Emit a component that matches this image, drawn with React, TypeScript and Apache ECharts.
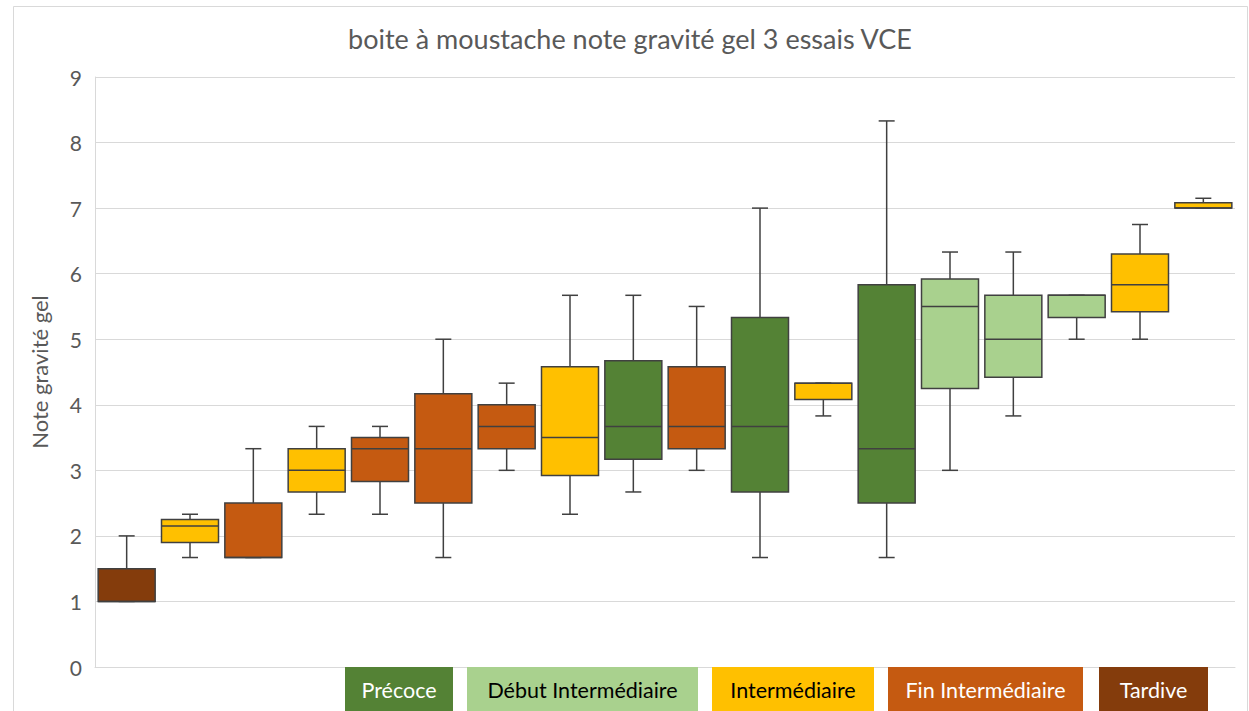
import React, { useEffect, useRef } from "react";
import * as echarts from "echarts";

const TITLE = "boite à moustache note gravité gel 3 essais VCE";
const Y_NAME = "Note gravité gel";
const CATEGORIES = ["V1", "V2", "V3", "V4", "V5", "V6", "V7", "V8", "V9", "V10", "V11", "V12", "V13", "V14", "V15", "V16", "V17", "V18"];
const GROUP_NAMES = ["Précoce", "Début Intermédiaire", "Intermédiaire", "Fin Intermédiaire", "Tardive"];
const GROUP_COLORS = ["#548235", "#A9D18E", "#FFC000", "#C55A11", "#843C0C"];
const GROUP_TEXT = ["#ffffff", "#000000", "#000000", "#ffffff", "#ffffff"];
// group index per box
const BOX_GROUP = [4, 2, 3, 2, 3, 3, 3, 2, 0, 3, 0, 2, 0, 1, 1, 1, 2, 2];
const MINS = [1, 1.67, 1.67, 2.33, 2.33, 1.67, 3, 2.33, 2.67, 3, 1.67, 3.83, 1.67, 3, 3.83, 5, 5, 7];
const Q1S = [1, 1.9, 1.67, 2.67, 2.83, 2.5, 3.33, 2.92, 3.17, 3.33, 2.67, 4.08, 2.5, 4.25, 4.42, 5.33, 5.42, 7];
const MEDIANS = [1, 2.15, 1.67, 3, 3.33, 3.33, 3.67, 3.5, 3.67, 3.67, 3.67, 4.33, 3.33, 5.5, 5, 5.67, 5.83, 7];
const Q3S = [1.5, 2.25, 2.5, 3.33, 3.5, 4.17, 4, 4.58, 4.67, 4.58, 5.33, 4.33, 5.83, 5.92, 5.67, 5.67, 6.3, 7.08];
const MAXS = [2, 2.33, 3.33, 3.67, 3.67, 5, 4.33, 5.67, 5.67, 5.5, 7, 4.33, 8.33, 6.33, 6.33, 5.67, 6.75, 7.15];
const Y_TICKS = [0, 1, 2, 3, 4, 5, 6, 7, 8, 9];

const LEGEND_BOXES = [
  [345, 108],
  [467, 231],
  [712, 162],
  [888, 195],
  [1099, 109],
];

const FONT = "Lato, 'Noto Sans', sans-serif";

export default function App() {
  const ref = useRef<HTMLDivElement>(null);
  useEffect(() => {
    document.body.style.margin = "0";
    const chart = echarts.init(ref.current!, null, { renderer: "svg" });
    const data = CATEGORIES.map((_, i) => [i, MINS[i], Q1S[i], MEDIANS[i], Q3S[i], MAXS[i]]);
    const stroke = "#404040";
    const graphics: any[] = [
      {
        type: "rect",
        shape: { x: 13.5, y: 6.5, width: 1234, height: 760 },
        style: { fill: "none", stroke: "#d9d9d9", lineWidth: 1 },
        silent: true,
        z: -10,
      },
      {
        type: "text",
        x: 630,
        y: 38,
        style: {
          text: TITLE,
          fill: "#595959",
          font: `27px ${FONT}`,
          textAlign: "center",
          textVerticalAlign: "middle",
        },
      },
    ];
    GROUP_NAMES.forEach((name, i) => {
      const [x, w] = LEGEND_BOXES[i];
      graphics.push({
        type: "rect",
        shape: { x, y: 667, width: w, height: 50 },
        style: { fill: GROUP_COLORS[i] },
        z: 10,
      });
      graphics.push({
        type: "text",
        x: x + w / 2,
        y: 690,
        z: 11,
        style: {
          text: name,
          fill: GROUP_TEXT[i],
          font: `21.5px ${FONT}`,
          textAlign: "center",
          textVerticalAlign: "middle",
        },
      });
    });
    chart.setOption({
      animation: false,
      backgroundColor: "#ffffff",
      grid: { left: 95, right: 14, top: 77, bottom: 44, containLabel: false },
      xAxis: {
        type: "category",
        data: CATEGORIES,
        axisLabel: { show: false },
        axisTick: { show: false },
        axisLine: { show: true, lineStyle: { color: "#d9d9d9", width: 1 } },
        splitLine: { show: false },
      },
      yAxis: {
        type: "value",
        min: Y_TICKS[0],
        max: Y_TICKS[Y_TICKS.length - 1],
        interval: 1,
        name: Y_NAME,
        nameLocation: "middle",
        nameGap: 45,
        nameTextStyle: { color: "#595959", fontSize: 22, fontFamily: FONT },
        axisLabel: { color: "#595959", fontSize: 21, fontFamily: FONT, margin: 13 },
        axisLine: { show: true, lineStyle: { color: "#d9d9d9", width: 1 } },
        axisTick: { show: false },
        splitLine: { lineStyle: { color: "#d9d9d9", width: 1 } },
      },
      graphic: graphics,
      series: [
        {
          type: "custom",
          data,
          encode: { x: 0, y: [1, 2, 3, 4, 5] },
          renderItem: (params: any, api: any) => {
            const idx = api.value(0);
            const bw = api.size([1, 0])[0] * 0.9;
            const hw = bw / 2;
            const cap = 8;
            const pMin = api.coord([idx, api.value(1)]);
            const pQ1 = api.coord([idx, api.value(2)]);
            const pMed = api.coord([idx, api.value(3)]);
            const pQ3 = api.coord([idx, api.value(4)]);
            const pMax = api.coord([idx, api.value(5)]);
            const cx = pMed[0];
            const color = GROUP_COLORS[BOX_GROUP[params.dataIndex]];
            const ls = { stroke, lineWidth: 1.5 };
            return {
              type: "group",
              children: [
                { type: "line", shape: { x1: cx, y1: pQ3[1], x2: cx, y2: pMax[1] }, style: ls },
                { type: "line", shape: { x1: cx, y1: pQ1[1], x2: cx, y2: pMin[1] }, style: ls },
                { type: "line", shape: { x1: cx - cap, y1: pMax[1], x2: cx + cap, y2: pMax[1] }, style: ls },
                { type: "line", shape: { x1: cx - cap, y1: pMin[1], x2: cx + cap, y2: pMin[1] }, style: ls },
                {
                  type: "rect",
                  shape: { x: cx - hw, y: pQ3[1], width: bw, height: pQ1[1] - pQ3[1] },
                  style: { fill: color, stroke, lineWidth: 1.5 },
                },
                { type: "line", shape: { x1: cx - hw, y1: pMed[1], x2: cx + hw, y2: pMed[1] }, style: ls },
              ],
            };
          },
        },
      ],
    });
    return () => chart.dispose();
  }, []);
  return <div ref={ref} style={{ width: 1249, height: 711 }} />;
}
